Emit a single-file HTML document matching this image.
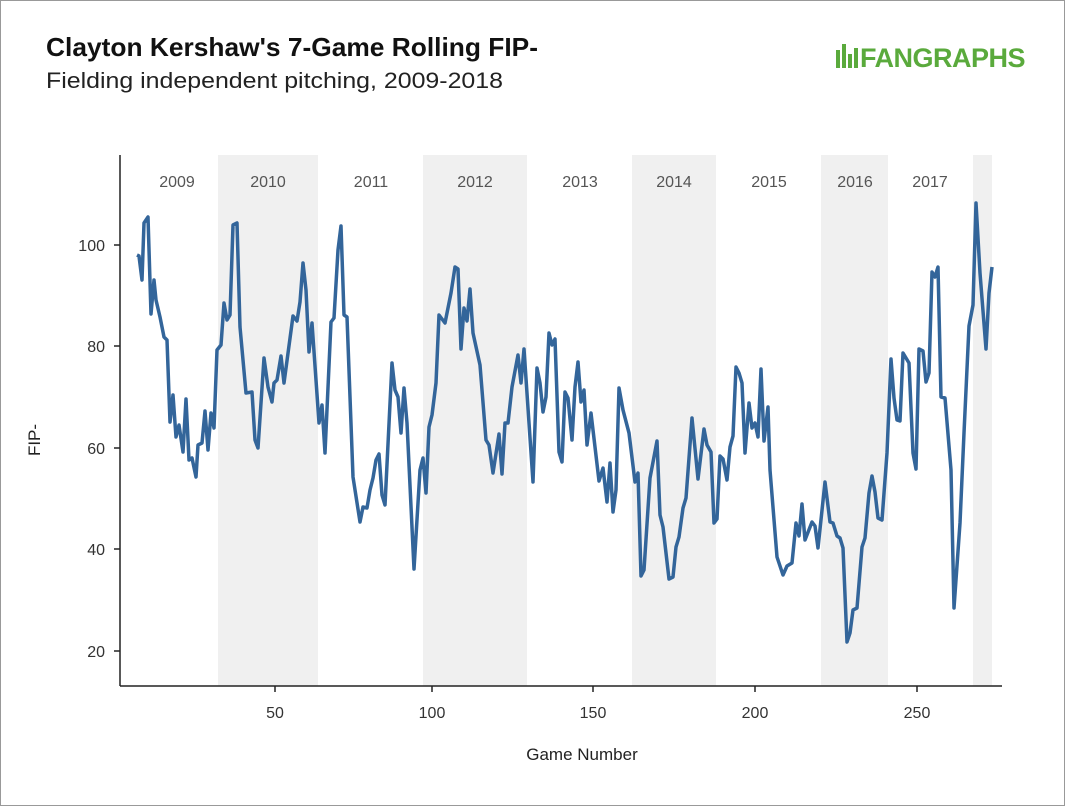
<!DOCTYPE html>
<html><head><meta charset="utf-8"><style>
html,body{margin:0;padding:0;background:#fff}
body{width:1065px;height:806px;overflow:hidden;font-family:"Liberation Sans",sans-serif}
</style></head><body>
<svg width="1065" height="806" viewBox="0 0 1065 806" xmlns="http://www.w3.org/2000/svg" font-family="Liberation Sans, sans-serif">
<rect x="0.5" y="0.5" width="1064" height="805" fill="#fff" stroke="#999"/>
<text x="46" y="56" font-size="26" font-weight="bold" fill="#111" textLength="492" lengthAdjust="spacingAndGlyphs">Clayton Kershaw's 7-Game Rolling FIP-</text>
<text x="46" y="88" font-size="22" fill="#222" textLength="457" lengthAdjust="spacingAndGlyphs">Fielding independent pitching, 2009-2018</text>
<g>
<rect x="836" y="50" width="4" height="18" fill="#5aaa3c"/>
<rect x="842" y="44" width="4" height="24" fill="#5aaa3c"/>
<rect x="848" y="54" width="4" height="14" fill="#5aaa3c"/>
<rect x="854" y="48" width="4" height="20" fill="#5aaa3c"/>
<text x="860" y="67" font-size="27" font-weight="bold" fill="#5aaa3c" letter-spacing="-0.5">FANGRAPHS</text>
</g>
<g fill="#f0f0f0">
<rect x="218" y="155" width="100" height="531"/>
<rect x="423" y="155" width="104" height="531"/>
<rect x="632" y="155" width="84" height="531"/>
<rect x="821" y="155" width="67" height="531"/>
<rect x="973" y="155" width="19" height="531"/>
</g>
<g font-size="16" fill="#555" text-anchor="middle">
<text x="177" y="187">2009</text><text x="268" y="187">2010</text><text x="371" y="187">2011</text>
<text x="475" y="187">2012</text><text x="580" y="187">2013</text><text x="674" y="187">2014</text>
<text x="769" y="187">2015</text><text x="855" y="187">2016</text><text x="930" y="187">2017</text>
</g>
<g stroke="#222" stroke-width="1.5">
<line x1="120" y1="155" x2="120" y2="686"/>
<line x1="120" y1="686" x2="1002" y2="686"/>
<line x1="114" y1="245" x2="120" y2="245"/><line x1="114" y1="346" x2="120" y2="346"/>
<line x1="114" y1="448" x2="120" y2="448"/><line x1="114" y1="549" x2="120" y2="549"/>
<line x1="114" y1="651" x2="120" y2="651"/>
<line x1="275" y1="686" x2="275" y2="692"/><line x1="432" y1="686" x2="432" y2="692"/>
<line x1="593" y1="686" x2="593" y2="692"/><line x1="755" y1="686" x2="755" y2="692"/>
<line x1="917" y1="686" x2="917" y2="692"/>
</g>
<g font-size="16" fill="#333" text-anchor="end">
<text x="105" y="251">100</text><text x="105" y="352">80</text><text x="105" y="454">60</text>
<text x="105" y="555">40</text><text x="105" y="657">20</text>
</g>
<g font-size="16" fill="#333" text-anchor="middle">
<text x="275" y="718">50</text><text x="432" y="718">100</text><text x="593" y="718">150</text>
<text x="755" y="718">200</text><text x="917" y="718">250</text>
</g>
<text x="582" y="760" font-size="17" fill="#222" text-anchor="middle">Game Number</text>
<text transform="translate(40,440) rotate(-90)" font-size="17" fill="#222" text-anchor="middle">FIP-</text>
<polyline fill="none" stroke="#33659a" stroke-width="3.5" stroke-linejoin="round" points="137,255 139,256 142,280 144,223 148,217 151,314 154,280 156,300 160,317 164,337 167,340 170,422 173,395 176,437 179,425 183,452 186,399 189,460 192,458 196,477 198,445 202,443 205,411 208,450 211,413 214,428 217,350 221,345 224,303 227,320 230,315 233,225 237,223 240,327 246,393 252,392 255,440 258,448 264,358 268,387 272,402 274,383 277,380 281,356 284,383 293,316 297,321 300,302 303,263 306,290 309,352 312,323 319,423 322,405 325,453 331,322 334,318 338,250 341,226 344,315 347,317 353,477 360,522 363,507 367,508 370,490 373,478 376,460 379,454 382,495 385,505 392,363 395,390 398,397 401,433 404,388 407,423 414,569 420,470 423,458 426,493 429,427 432,415 436,383 439,315 445,323 451,293 455,267 458,269 461,349 464,308 467,321 470,289 473,333 480,365 486,440 489,445 493,473 499,434 502,474 505,423 508,423 512,387 518,355 521,383 524,349 533,482 537,368 540,383 543,412 546,397 549,333 552,345 555,339 559,452 562,462 565,392 568,398 572,440 575,387 578,362 581,402 584,390 587,445 591,413 599,481 603,468 607,502 610,463 613,512 616,490 619,388 623,410 629,433 635,482 638,473 641,576 644,570 650,478 657,441 660,515 663,527 669,579 673,577 676,547 679,537 683,508 686,498 692,418 698,479 704,429 707,445 711,452 714,523 717,519 720,456 723,459 727,480 730,447 733,436 736,367 739,373 742,383 745,453 749,403 752,428 755,423 758,437 761,369 764,441 768,407 770,470 777,557 783,575 787,566 792,563 796,523 799,536 802,504 805,540 812,522 815,526 818,548 825,482 830,522 833,523 837,536 840,538 843,548 847,642 850,633 853,610 857,608 862,547 865,538 869,493 872,476 875,492 878,518 882,520 887,453 891,359 894,398 897,420 900,421 903,353 909,363 913,453 916,469 919,349 923,351 926,382 929,373 932,272 935,277 938,267 941,397 945,398 951,470 954,608 960,523 964,433 969,326 973,305 976,203 980,273 986,349 989,293 992,267"/>
</svg>
</body></html>
